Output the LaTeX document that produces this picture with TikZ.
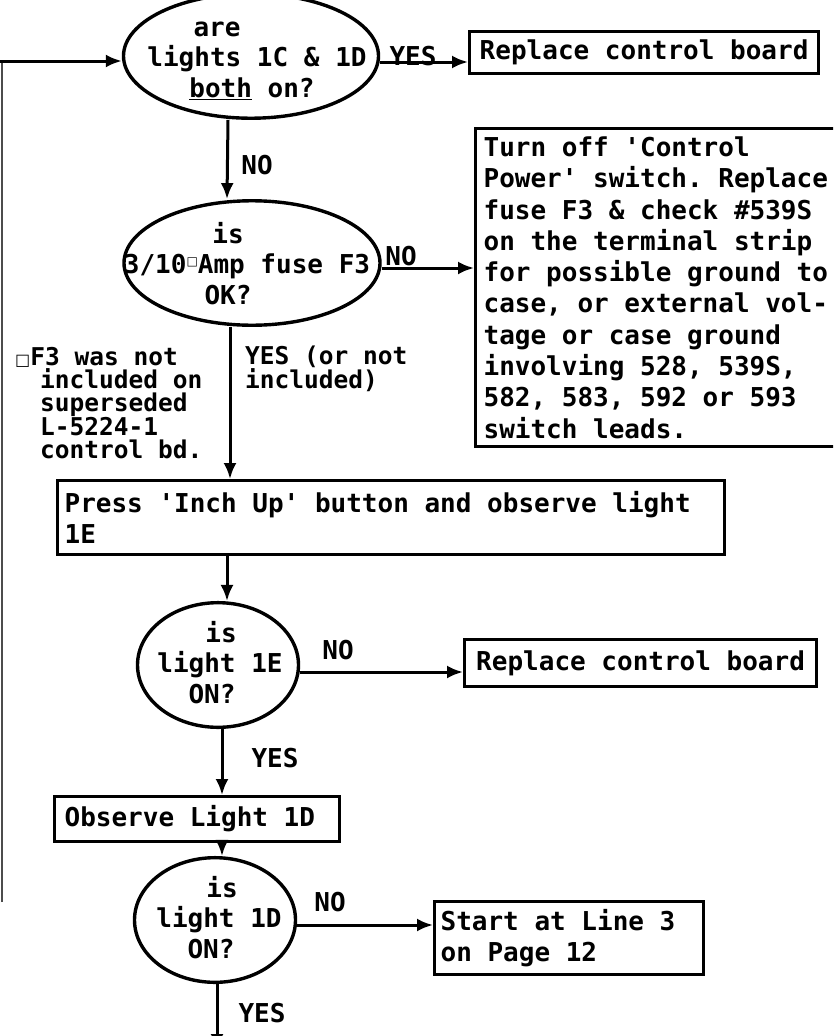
\documentclass[tikz,border=0pt]{standalone}
\usepackage{fontspec}
\setmonofont{DejaVu Sans Mono}
\newfontfamily\symfont{DejaVu Sans}
\usetikzlibrary{arrows.meta,shapes.geometric}

% centre one line of a multi-line node at a horizontal offset #1
\newcommand\txtat[2]{\makebox[0pt][c]{\hspace*{#1}\hspace*{#1}#2}}
% fixed, full-width spaces for the typewriter face
\newcommand\monosp{\spaceskip=0.602em plus 0pt minus 0pt\relax\xspaceskip=\spaceskip}
% struts that fix where the first and last line of an oval sit
\newcommand\etop{\rule{0pt}{24pt}}
\newcommand\ebot{\rule[-3pt]{0pt}{3pt}}
\newcommand\ftop{\rule{0pt}{21pt}}
\newcommand\fbot{\rule[-6pt]{0pt}{6pt}}
% footnote squares
\newcommand\sqmark{\raisebox{8pt}{\symfont\fontsize{12}{12}\selectfont □}}
\newcommand\fnmark{{\symfont\fontsize{16}{16}\selectfont □}}

\tikzset{
  tw/.style={font=\fontsize{26}{31.3}\selectfont\ttfamily\bfseries},
  decision/.style={ellipse, draw, line width=3.4pt, inner sep=0pt, align=center,
    font=\fontsize{26}{30.5}\selectfont\ttfamily\bfseries},
  stepbox/.style={rectangle, draw, line width=3.2pt, inner ysep=2pt, tw},
  arr/.style={line width=3pt, -{Latex[length=16pt,width=13pt]}},
  loopline/.style={line width=1.4pt, draw=black!70},
  lbl/.style={inner sep=0pt, tw},
  note/.style={inner sep=0pt, align=left, font=\fontsize{24.5}{23}\selectfont\ttfamily\bfseries}
}

\begin{document}
\begin{tikzpicture}[x=1pt,y=-1pt]
\clip (0,0) rectangle (833,1036);
\fill[white] (0,0) rectangle (833,1036);

% decisions
\node[decision, minimum width=255, minimum height=105] (q1) at (251,56)
  {\txtat{-34pt}{\etop are}\\ \txtat{6pt}{lights 1C \& 1D}\\ \txtat{1pt}{\underline{both} on?\ebot}};
\node[decision, minimum width=256, minimum height=112] (q2) at (252,263)
  {\txtat{-24pt}{\etop is}\\ \txtat{-5pt}{3/10\sqmark Amp fuse F3}\\ \txtat{-24pt}{OK?\ebot}};
\node[decision, minimum width=161, minimum height=116] (q3) at (218,665)
  {\txtat{3pt}{\ftop is}\\ \txtat{2pt}{light 1E}\\ \txtat{-6pt}{ON?\fbot}};
\node[decision, minimum width=161, minimum height=114] (q4) at (215,920)
  {\txtat{7pt}{\ftop is}\\ \txtat{4pt}{light 1D}\\ \txtat{-4pt}{ON?\fbot}};

% action boxes
\node[stepbox, anchor=north west, minimum width=349, minimum height=42] (b1) at (468,30)
  {Replace control board};
\node[stepbox, anchor=north west, align=left, text width=380pt, inner xsep=8pt,
  minimum height=318] (b4) at (474,127)
  {\monosp Turn off 'Control\\ Power' switch. Replace\\ fuse F3 \& check \#539S\\
   on the terminal strip\\ for possible ground to\\ case, or external vol-\\
   tage or case ground\\ involving 528, 539S,\\ 582, 583, 592 or 593\\ switch leads.};
\node[stepbox, anchor=north west, align=left, text width=653pt, inner xsep=7pt,
  minimum height=74] (pr) at (56,479)
  {\monosp Press 'Inch Up' button and observe light\\ 1E};
\node[stepbox, anchor=north west, minimum width=352, minimum height=47] (b2) at (463,638)
  {Replace control board};
\node[stepbox, anchor=north west, align=left, text width=265pt, inner xsep=10pt,
  minimum height=45] (ob) at (53,795)
  {\monosp Observe Light 1D};
\node[stepbox, anchor=north west, align=left, text width=257pt, inner xsep=6pt,
  minimum height=73] (st) at (433,900)
  {\monosp Start at Line 3\\ on Page 12};

% notes
\node[note, anchor=north west] (fn) at (15,347)
  {\monosp\fnmark F3 was not\\ \hspace*{25pt}included on\\ \hspace*{25pt}superseded\\
   \hspace*{25pt}L-5224-1\\ \hspace*{25pt}control bd.};
\node[note, anchor=north west] (yes2) at (245,346) {\monosp YES (or not\\ included)};

% return line entering from the left
\coordinate (lstart) at (0,61);
\coordinate (lcorner) at (2,61);
\coordinate (lend) at (2,902);
\draw[loopline] (lend) -- (lcorner);
\draw[arr] (lstart) -- (lstart -| q1.west);

% connectors
\draw[arr] ([yshift=-6pt]q1.east) -- ([yshift=-6pt]q1.east -| b1.west);
\node[lbl, anchor=base] (yes1) at (413,65) {YES};

\draw[arr] ([xshift=-23pt]q1.south) -- ([xshift=-25pt]q2.north);
\node[lbl] (no1) at (257,165) {NO};

\draw[arr] ([yshift=-5pt]q2.east) -- ([yshift=-5pt]q2.east -| b4.west);
\node[lbl, anchor=base] (no2) at (401,265) {NO};

\draw[arr] ([xshift=-22pt]q2.south) -- ([xshift=-22pt]q2.south |- pr.north);

\draw[arr] ([xshift=9pt]q3.north |- pr.south) -- ([xshift=9pt]q3.north);

\draw[arr] ([yshift=-7pt]q3.east) -- ([yshift=-7pt]q3.east -| b2.west);
\node[lbl] (no3) at (338,650) {NO};

\draw[arr] ([xshift=4pt]q3.south) -- ([xshift=4pt]q3.south |- ob.north);
\node[lbl] (yes3) at (275,758) {YES};

\draw[arr] ([xshift=7pt]q4.north |- ob.south) -- ([xshift=7pt]q4.north);

\draw[arr] ([yshift=-5pt]q4.east) -- ([yshift=-5pt]q4.east -| st.west);
\node[lbl] (no4) at (330,902) {NO};

\coordinate (exit) at (217,1050);
\draw[arr] ([xshift=2pt]q4.south) -- (exit);
\node[lbl] (yes4) at (262,1013) {YES};
\end{tikzpicture}
\end{document}
